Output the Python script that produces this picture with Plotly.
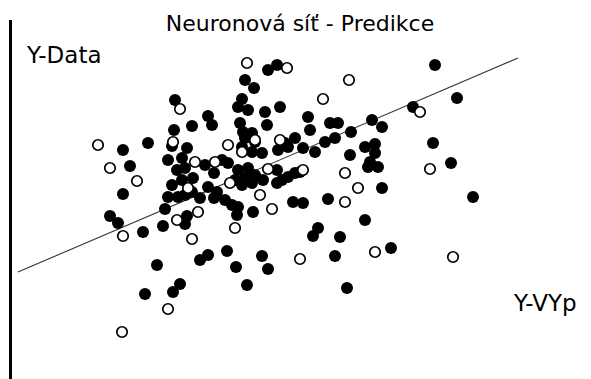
import plotly.graph_objects as go

# Filled points (Y-VYp, Y-Data)
filled_x = [175, 208, 212, 192, 174, 123, 148, 172, 187, 277, 268, 245, 254, 242, 238, 248, 265, 280, 308, 240,
            267, 330, 338, 310, 351, 243, 252, 245, 255, 285, 295, 325, 335, 242, 435, 457, 413, 372, 382, 433,
            365, 375, 168, 182, 205, 130, 177, 185, 214, 123, 172, 182, 193, 168, 178, 192, 208, 217, 185, 200,
            214, 165, 110, 118, 187, 185, 163, 143, 252, 262, 278, 288, 303, 315, 222, 228, 238, 248, 255, 245,
            242, 252, 263, 235, 277, 295, 288, 282, 277, 300, 350, 225, 232, 238, 237, 253, 293, 303, 328, 318,
            313, 340, 375, 370, 378, 368, 382, 451, 473, 365, 200, 208, 157, 145, 173, 180, 227, 262, 335, 236,
            268, 247, 347, 391]
filled_y = [279, 263, 254, 253, 249, 229, 236, 233, 231, 314, 309, 299, 291, 280, 272, 269, 267, 272, 262, 256,
            254, 256, 256, 249, 247, 247, 246, 241, 237, 236, 241, 237, 241, 232, 314, 281, 272, 259, 252, 236,
            232, 235, 219, 221, 214, 213, 209, 211, 206, 185, 194, 199, 201, 182, 182, 187, 192, 187, 184, 181,
            181, 170, 163, 156, 163, 155, 153, 147, 227, 226, 229, 232, 231, 227, 219, 216, 209, 211, 204, 201,
            194, 196, 199, 199, 209, 206, 202, 199, 196, 207, 224, 179, 174, 172, 164, 167, 177, 176, 180, 151,
            143, 142, 226, 217, 212, 212, 191, 216, 182, 159, 119, 124, 114, 85, 87, 95, 128, 123, 123, 112,
            110, 94, 91, 131]

# Open points
open_x = [180, 98, 173, 247, 287, 349, 323, 228, 255, 280, 420, 195, 215, 110, 137, 188, 177, 198, 123, 192,
          242, 268, 303, 345, 230, 260, 272, 345, 235, 358, 430, 168, 122, 300, 375, 453]
open_y = [270, 234, 237, 316, 311, 299, 280, 234, 239, 239, 267, 217, 217, 211, 198, 191, 159, 167, 143, 140,
          227, 210, 209, 206, 196, 184, 170, 177, 151, 191, 210, 70, 47, 120, 127, 122]

# Fitted line
line_x = [18, 518]
line_y = [107, 321]

title_text = "Neuronová síť - Predikce"
y_label = "Y-Data"
x_label = "Y-VYp"

fig = go.Figure()
fig.add_trace(go.Scatter(x=line_x, y=line_y, mode="lines",
                         line=dict(color="#333333", width=1.1), hoverinfo="skip"))
fig.add_trace(go.Scatter(x=filled_x, y=filled_y, mode="markers",
                         marker=dict(size=12, color="black", line=dict(width=0))))
fig.add_trace(go.Scatter(x=open_x, y=open_y, mode="markers",
                         marker=dict(size=10.5, color="white", line=dict(width=1.7, color="black"))))

W, H = 591, 379
fig.update_layout(
    width=W, height=H,
    margin=dict(l=0, r=0, t=0, b=0),
    paper_bgcolor="white", plot_bgcolor="white",
    showlegend=False,
    font=dict(family="DejaVu Sans", color="black"),
    title=dict(text=title_text, x=300 / W, xanchor="center", xref="paper",
               y=1 - 23 / H, yanchor="middle", yref="container",
               font=dict(size=22, family="DejaVu Sans", color="black")),
    xaxis=dict(domain=[12 / W, 1], range=[12, 591], visible=False),
    yaxis=dict(domain=[0, 359 / H], range=[0, 359], showline=True, linewidth=3,
               linecolor="black", showgrid=False, zeroline=False, ticks="",
               showticklabels=False),
    annotations=[
        dict(text=y_label, x=24 / W, y=1 - 55 / H, xref="paper", yref="paper",
             xanchor="left", yanchor="middle", showarrow=False,
             font=dict(size=23, family="DejaVu Sans", color="black")),
        dict(text=x_label, x=511 / W, y=1 - 303 / H, xref="paper", yref="paper",
             xanchor="left", yanchor="middle", showarrow=False,
             font=dict(size=23, family="DejaVu Sans", color="black")),
    ],
)

fig.write_html("out.html", config={"displayModeBar": False},
               post_script="document.body.style.margin='0';document.body.style.padding='0';")
